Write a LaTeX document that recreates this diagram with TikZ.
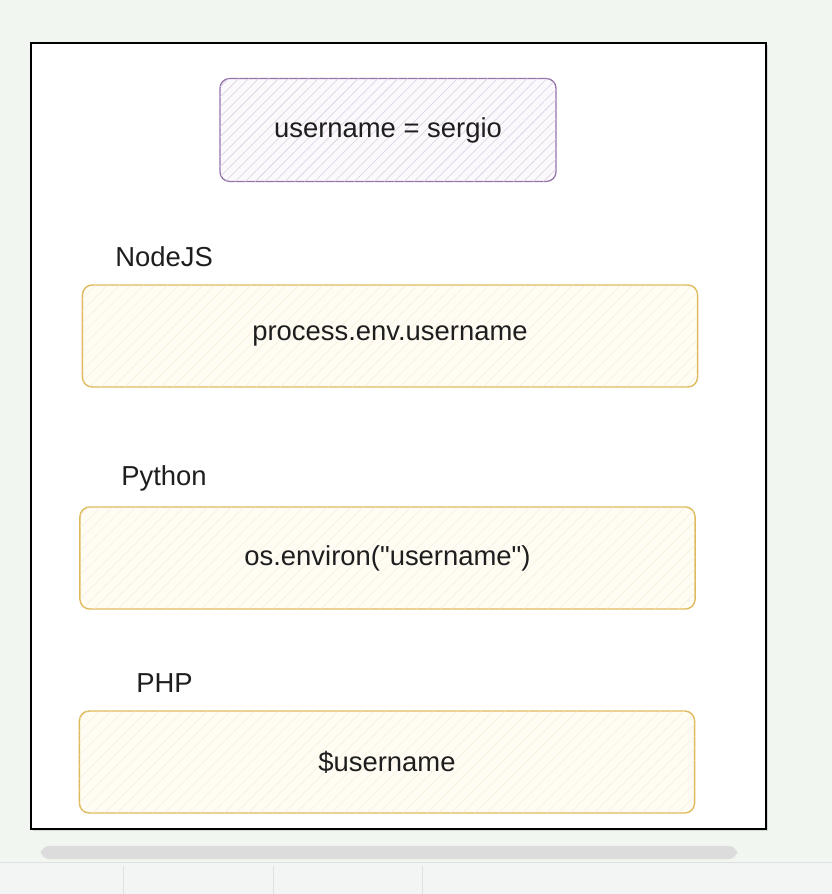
\documentclass[tikz,border=0pt]{standalone}
\usepackage{fontspec}
\setmainfont{Liberation Sans}[Ligatures=TeXOff]
\usepackage{xcolor}
\usetikzlibrary{positioning,patterns.meta,shadows}
\definecolor{canvasbg}{HTML}{F1F6F0}
\definecolor{stripbg}{HTML}{F3F5F5}
\definecolor{stripline}{HTML}{DDE1E1}
\definecolor{scrollgray}{HTML}{DCDCDC}
\definecolor{ink}{HTML}{1E1E1E}
\definecolor{varline}{HTML}{9473AB}
\definecolor{varfill}{HTML}{FBF9FC}
\definecolor{varhatch}{HTML}{D9CEE2}
\definecolor{codeline}{HTML}{DFBA5C}
\definecolor{codefill}{HTML}{FFFCF3}
\definecolor{codehatch}{HTML}{F4EBD4}

\begin{document}
\begin{tikzpicture}[x=0.025cm, y=-0.025cm,
  frame/.style={draw=black, line width=1.1pt, fill=white, minimum width=18.375cm,
                minimum height=19.65cm, drop shadow={shadow xshift=1.5pt, shadow yshift=-1.5pt, opacity=0.25}},
  var/.style={rounded corners=7pt, draw=varline, line width=0.9pt, fill=varfill,
              postaction={pattern={Lines[angle=45,distance=5pt,line width=0.4pt]}, pattern color=varhatch},
              minimum width=8.4cm, minimum height=2.575cm, font=\fontsize{19.5}{23}\selectfont, text=ink},
  code/.style={rounded corners=7pt, draw=codeline, line width=1pt, fill=codefill,
               postaction={pattern={Lines[angle=45,distance=6pt,line width=0.25pt]}, pattern color=codehatch},
               minimum width=15.375cm, minimum height=2.55cm, font=\fontsize{19.5}{23}\selectfont, text=ink},
  lang/.style={anchor=west, inner sep=0pt, font=\fontsize{19.5}{23}\selectfont, text=ink}
]
  \fill[canvasbg] (0,0) rectangle (832,894);
  \useasboundingbox (0,0) rectangle (832,894);
  % browser bits below the canvas
  \fill[stripbg] (0,862) rectangle (832,894);
  \draw[stripline] (0,862) -- (832,862);
  \foreach \xdiv in {123,273,422}
    \draw[stripline] (\xdiv,866) -- (\xdiv,894);
  \node[rounded corners=6pt, fill=scrollgray, minimum width=17.4cm, minimum height=0.33cm, inner sep=0pt] (scroll) at (389,852.5) {};

  \node[frame] (canvas) at (398.5,436) {};

  \node[var] (user) at (388,130) {username = sergio};

  \node[code] (node) at (390,336) {process.env.username};
  \node[code] (py) at (387.5,558) {os.environ("username")};
  \node[code] (php) at (387,762) {\$username};

  \node[lang] (nodelbl) at (115,257) {NodeJS};
  \node[lang] (pylbl) at (121,478) {Python};
  \node[lang] (phplbl) at (136,683) {PHP};
\end{tikzpicture}
\end{document}
